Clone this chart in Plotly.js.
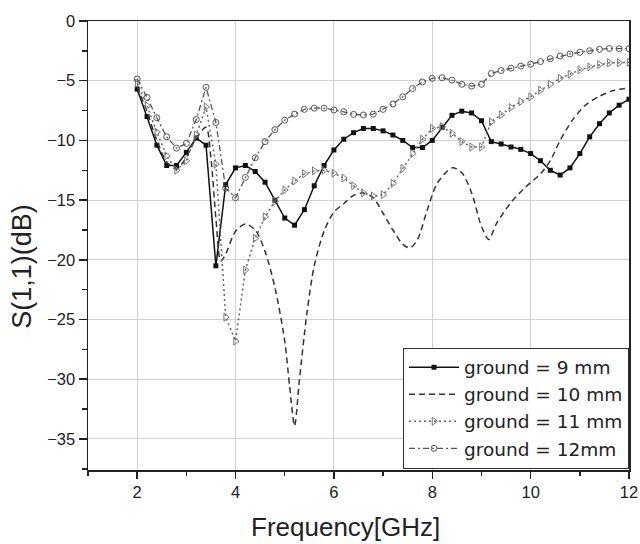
<!DOCTYPE html>
<html>
<head>
<meta charset="utf-8">
<script src="https://cdn.plot.ly/plotly-3.0.1.min.js"></script>
<style>html,body{margin:0;padding:0;background:#fff;}#chart{width:640px;height:544px;}</style>
</head>
<body>
<div id="chart"></div>
<script>
// Frequency samples (GHz) for the marked series
const freq = [2.0,2.2,2.4,2.6,2.8,3.0,3.2,3.4,3.6,3.8,4.0,4.2,4.4,4.6,4.8,5.0,5.2,5.4,5.6,5.8,
  6.0,6.2,6.4,6.6,6.8,7.0,7.2,7.4,7.6,7.8,8.0,8.2,8.4,8.6,8.8,9.0,9.2,9.4,9.6,9.8,
  10.0,10.2,10.4,10.6,10.8,11.0,11.2,11.4,11.6,11.8,12.0];

const s9 = [-5.7,-8.0,-10.4,-12.1,-12.1,-11.0,-9.8,-10.4,-20.5,-13.7,-12.3,-12.1,-12.6,-13.5,-15.0,-16.5,-17.1,-15.8,-13.8,-12.1,
  -10.8,-9.9,-9.35,-9.0,-9.0,-9.2,-9.55,-10.0,-10.6,-10.6,-10.0,-8.9,-7.9,-7.55,-7.7,-8.35,-10.1,-10.3,-10.55,-10.75,
  -11.1,-11.7,-12.5,-12.9,-12.3,-11.1,-9.7,-8.6,-7.7,-7.05,-6.55];

const s11 = [-5.2,-7.1,-9.3,-11.3,-12.5,-11.7,-9.55,-7.2,-12.0,-24.8,-26.8,-20.85,-18.2,-16.4,-15.1,-14.15,-13.4,-12.8,-12.55,-12.5,
  -12.75,-13.15,-13.8,-14.4,-14.65,-14.55,-13.6,-12.35,-11.1,-9.9,-9.0,-8.85,-9.4,-10.1,-10.55,-10.55,-8.45,-7.85,-7.25,-6.75,
  -6.35,-5.8,-5.3,-4.8,-4.45,-4.1,-3.85,-3.65,-3.5,-3.5,-3.45];

const s12 = [-4.85,-6.4,-8.1,-9.7,-10.65,-10.25,-8.25,-5.55,-8.5,-14.0,-14.8,-13.1,-11.45,-10.1,-9.1,-8.3,-7.8,-7.4,-7.3,-7.3,
  -7.45,-7.6,-7.82,-7.87,-7.8,-7.4,-6.95,-6.35,-5.65,-5.1,-4.8,-4.75,-4.95,-5.3,-5.45,-5.3,-4.4,-4.15,-3.95,-3.78,
  -3.62,-3.4,-3.15,-2.93,-2.76,-2.62,-2.49,-2.37,-2.3,-2.32,-2.32];

// 10 mm curve read at points along the dashed line
const f10 = [2.0,2.2,2.4,2.6,2.8,3.0,3.2,3.4,3.5,3.6,3.7,3.8,4.0,4.2,4.4,4.6,4.8,5.0,5.1,5.2,5.3,5.45,5.6,5.8,
  6.0,6.2,6.4,6.6,6.8,7.0,7.2,7.4,7.55,7.7,7.9,8.1,8.4,8.6,8.8,9.0,9.15,9.3,9.6,9.9,10.2,10.4,10.6,10.85,11.1,11.4,11.7,12.0];
const s10 = [-5.5,-7.6,-10.0,-11.8,-12.4,-11.4,-9.8,-8.9,-11.5,-16.5,-20.1,-19.5,-17.6,-17.0,-17.5,-19.3,-22.3,-26.8,-30.6,-33.9,-30.0,-24.5,-20.5,-17.6,
  -16.0,-15.3,-14.6,-14.4,-14.8,-16.1,-17.5,-18.7,-19.0,-18.3,-15.8,-13.6,-12.3,-12.7,-14.4,-17.2,-18.3,-17.0,-15.2,-13.9,-12.8,-11.7,-10.0,-8.3,-7.1,-6.3,-5.8,-5.6];

const names = ['ground = 9 mm','ground = 10 mm','ground = 11 mm','ground = 12mm'];
const xTitle = 'Frequency[GHz]';
const yTitle = 'S(1,1)(dB)';

const traces = [
  {x: freq, y: s9, name: names[0], mode: 'lines+markers', type: 'scatter',
   line: {color: '#111', width: 1.5},
   marker: {symbol: 'square', size: 5, color: '#111'}},
  {x: f10, y: s10, name: names[1], mode: 'lines', type: 'scatter',
   line: {color: '#333', width: 1.5, dash: '6px,4px', shape: 'spline', smoothing: 0.8}},
  {x: freq, y: s11, name: names[2], mode: 'lines+markers', type: 'scatter',
   line: {color: '#666', width: 1.5, dash: '2px,3px'},
   marker: {symbol: 'triangle-right-open', size: 7, color: '#777', line: {width: 1}}},
  {x: freq, y: s12, name: names[3], mode: 'lines+markers', type: 'scatter',
   line: {color: '#555', width: 1.3, dash: '6px,3px,2px,3px'},
   marker: {symbol: 'circle-open', size: 6, color: '#555', line: {width: 1}}}
];

const fontFam = '"Liberation Sans", Arial, sans-serif';
const layout = {
  width: 640, height: 544,
  margin: {l: 88, r: 11, t: 21, b: 74},
  paper_bgcolor: '#fff', plot_bgcolor: '#fff',
  font: {family: fontFam, color: '#222', size: 17},
  showlegend: true,
  xaxis: {
    range: [1, 12], tick0: 0, dtick: 2,
    showgrid: true, gridcolor: '#d0d0d0', gridwidth: 1,
    zeroline: false,
    showline: true, linecolor: '#222', linewidth: 1.5, mirror: true,
    ticks: 'outside', ticklen: 7, tickwidth: 1.5, tickcolor: '#222',
    minor: {dtick: 1, tick0: 0, ticks: 'outside', ticklen: 4, tickwidth: 1.5, tickcolor: '#222', showgrid: false},
    tickfont: {size: 16.5}
  },
  yaxis: {
    range: [-37.6, 0], tick0: 0, dtick: 5,
    showgrid: true, gridcolor: '#d0d0d0', gridwidth: 1,
    zeroline: false,
    showline: true, linecolor: '#222', linewidth: 1.5, mirror: true,
    ticks: 'outside', ticklen: 8, tickwidth: 1.5, tickcolor: '#222',
    minor: {dtick: 2.5, tick0: 0, ticks: 'outside', ticklen: 5, tickwidth: 1.5, tickcolor: '#222', showgrid: false},
    tickfont: {size: 16.5}
  },
  annotations: [
    {text: xTitle, xref: 'paper', yref: 'paper', x: 0.476, y: -0.127,
     xanchor: 'center', yanchor: 'middle', showarrow: false, font: {size: 26, color: '#222'}},
    {text: yTitle, xref: 'paper', yref: 'paper', x: -0.121, y: 0.454, textangle: -90,
     xanchor: 'center', yanchor: 'middle', showarrow: false, font: {size: 27, color: '#222'}}
  ],
  legend: {
    x: 1, xanchor: 'right', y: 0.003, yanchor: 'bottom',
    bgcolor: '#fff', bordercolor: '#333', borderwidth: 1,
    font: {family: '"DejaVu Sans", sans-serif', size: 18.5, color: '#222'},
    itemwidth: 50, tracegroupgap: 0
  }
};

Plotly.newPlot('chart', traces, layout, {staticPlot: true, displayModeBar: false});
</script>
</body>
</html>
